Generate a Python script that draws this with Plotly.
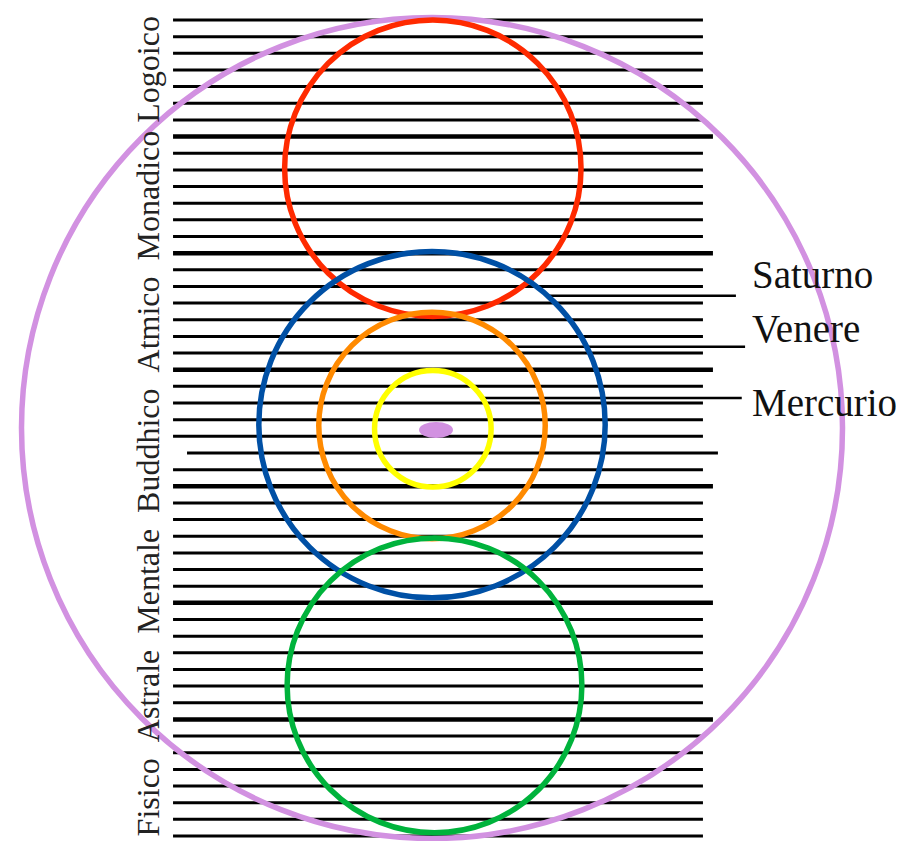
import plotly.graph_objects as go

# planes from bottom to top, each split in 7 sub-planes
planes = ["Fisico", "Astrale", "Mentale", "Buddhico", "Atmico", "Monadico", "Logoico"]
subplanes_per_plane = 7
shifted_level = 23  # the one sub-plane line drawn out of step

# circles: centre level and radius, in sub-plane units
circle_names = ["Totale", "Superiore", "Saturno", "Venere", "Mercurio", "Inferiore"]
circle_cx = [0.0, 0.05, 0.0, 0.0, 0.05, 0.15]
circle_cy = [24.5, 40.1, 24.7, 24.65, 24.45, 9.05]
circle_r = [24.65, 8.9, 10.4, 6.8, 3.5, 8.85]
circle_colors = ["#D291E1", "#FF2A00", "#0050A5", "#FF8A00", "#FFFF00", "#00B33C"]

# pointer labels on the right
pointer_names = ["Saturno", "Venere", "Mercurio"]
pointer_levels = [32.44, 29.38, 26.3]
pointer_ends = [18.25, 18.8, 18.6]
pointer_label_levels = [33.69, 30.5, 26.06]

# centre nucleus
nucleus = dict(x=0.24, y=24.38, rx=1.02, ry=0.48, color="#D291E1")

n_levels = len(planes) * subplanes_per_plane
px_per_unit = (836 - 20) / n_levels
page_off = 8  # body margin of the page
W, H = 904 - page_off, 841 - page_off

shapes = []

# sub-plane lines
for lvl in range(n_levels + 1):
    boundary = lvl % subplanes_per_plane == 0 and 0 < lvl < n_levels
    x0, x1, w = -15.55, 16.27, 3
    if boundary:
        x1, w = 16.87, 4.5
    if lvl == shifted_level:
        x0, x1 = -14.71, 17.17
    shapes.append(dict(type="line", xref="x", yref="y", x0=x0, x1=x1, y0=lvl, y1=lvl,
                       line=dict(color="black", width=w)))

# pointer lines start from the edge of their circle
for name, lvl, x_end in zip(pointer_names, pointer_levels, pointer_ends):
    i = circle_names.index(name)
    dx = (circle_r[i] ** 2 - (lvl - circle_cy[i]) ** 2) ** 0.5
    shapes.append(dict(type="line", xref="x", yref="y", x0=circle_cx[i] + dx - 0.1, x1=x_end,
                       y0=lvl, y1=lvl, line=dict(color="black", width=2.5)))

# circles
for cx, cy, r, col in zip(circle_cx, circle_cy, circle_r, circle_colors):
    shapes.append(dict(type="circle", xref="x", yref="y", x0=cx - r, x1=cx + r,
                       y0=cy - r, y1=cy + r, line=dict(color=col, width=5.5)))

shapes.append(dict(type="circle", xref="x", yref="y",
                   x0=nucleus["x"] - nucleus["rx"], x1=nucleus["x"] + nucleus["rx"],
                   y0=nucleus["y"] - nucleus["ry"], y1=nucleus["y"] + nucleus["ry"],
                   fillcolor=nucleus["color"], line=dict(color=nucleus["color"], width=0)))

annotations = []
nb = "\u00a0"
left_text = (nb * 2).join(planes[:-1]) + " " + planes[-1]
annotations.append(dict(x=-17.05, y=24.6, xref="x", yref="y", text=left_text, textangle=-90,
                        showarrow=False, xanchor="center", yanchor="middle",
                        font=dict(family="Liberation Serif, Times New Roman, serif", size=32, color="#222")))

for name, lvl in zip(pointer_names, pointer_label_levels):
    annotations.append(dict(x=19.1, y=lvl, xref="x", yref="y", text=name, showarrow=False,
                            xanchor="left", yanchor="middle",
                            font=dict(family="Liberation Serif, Times New Roman, serif", size=39, color="#111")))

fig = go.Figure()
fig.update_layout(
    width=W, height=H,
    margin=dict(l=0, r=0, t=0, b=0),
    paper_bgcolor="white", plot_bgcolor="white",
    shapes=shapes, annotations=annotations,
    showlegend=False,
    xaxis=dict(range=[(page_off - 432) / px_per_unit, (page_off + W - 432) / px_per_unit],
               visible=False, fixedrange=True),
    yaxis=dict(range=[(836 - page_off - H) / px_per_unit, (836 - page_off) / px_per_unit],
               visible=False, fixedrange=True),
)

fig.write_html("out.html")
